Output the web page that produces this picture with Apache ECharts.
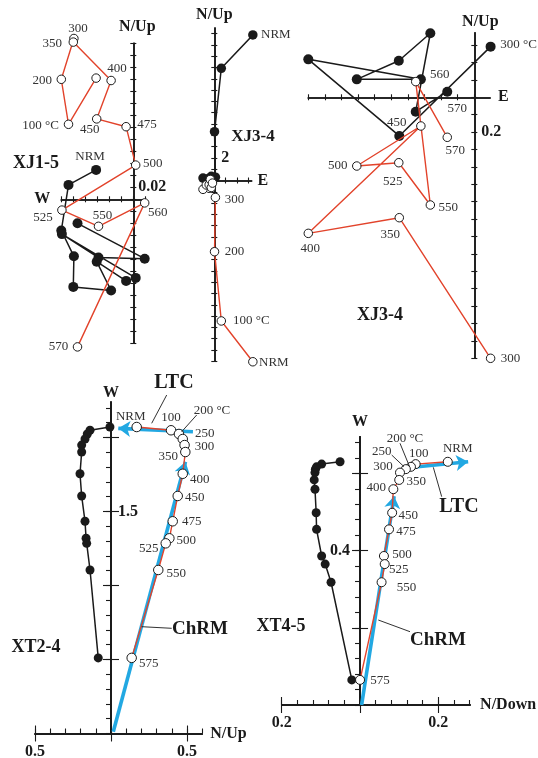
<!DOCTYPE html>
<html>
<head>
<meta charset="utf-8">
<script src="https://cdn.jsdelivr.net/npm/echarts@6/dist/echarts.min.js"></script>
<style>
  html, body { margin: 0; padding: 0; background: #fff; }
  #chart { width: 538px; height: 758px; }
</style>
</head>
<body>
<div id="chart"></div>
<script>
// ---------- demagnetisation data (orthogonal vector projections) ----------

// XJ1-5: horizontal axis = W–E component, filled = N, open = Up
const xj15Steps = ['NRM', '100 °C', '200', '300', '350', '400', '450', '475', '500', '525', '550', '560', '570'];
const xj15EW = [-0.062, -0.108, -0.120, -0.099, -0.100, -0.037, -0.061, -0.012, 0.004, -0.119, -0.058, 0.019, -0.093];
const xj15N  = [0.049, 0.024, -0.052, -0.095, -0.146, -0.152, -0.104, -0.136, -0.131, -0.058, -0.097, -0.099, -0.040];
const xj15Up = [0.202, 0.125, 0.200, 0.268, 0.262, 0.198, 0.134, 0.121, 0.057, -0.018, -0.045, -0.006, -0.246];

// XJ3-4: horizontal axis = E component, filled = N, open = Up (full run and enlarged 300–570 °C part)
const xj34Steps = ['NRM', '100 °C', '200', '300', '350', '400', '450', '500', '525', '550', '560', '570'];
const xj34E  = [3.41, 0.62, 0.02, 0.098, -0.452, -1.0, -0.322, -0.708, -0.455, -0.265, -0.353, -0.163];
const xj34N  = [12.88, 9.93, 4.32, 0.291, -0.222, 0.218, 0.103, 0.103, 0.210, 0.368, -0.083, 0.032];
const xj34Up = [-16.04, -12.43, -6.30, -1.50, -0.692, -0.782, -0.165, -0.395, -0.376, -0.619, 0.090, -0.230];

// XT2-4: vertical axis = W component, filled = N, open = Up
const xt24Steps = ['NRM', '100', '200 °C', '250', '300', '350', '400', '450', '475', '500', '525', '550', '575'];
const xt24W  = [2.071, 2.049, 2.024, 1.990, 1.949, 1.902, 1.755, 1.605, 1.434, 1.319, 1.285, 1.105, 0.511];
const xt24N  = [-0.007, -0.138, -0.156, -0.171, -0.193, -0.193, -0.204, -0.193, -0.171, -0.164, -0.160, -0.138, -0.084];
const xt24Up = [0.169, 0.395, 0.447, 0.472, 0.484, 0.489, 0.472, 0.439, 0.406, 0.384, 0.360, 0.311, 0.136];
const xt24Ltc  = [[0.539, 2.039], [0.048, 2.062]];
const xt24Chrm = [[0.015, 0.012], [0.490, 1.836]];

// XT4-5: vertical axis = W component, filled = N, open = Down
const xt45Steps = ['NRM', '100', '200 °C', '250', '300', '350', '400', '450', '475', '500', '525', '550', '575'];
const xt45W    = [0.630, 0.624, 0.617, 0.611, 0.602, 0.583, 0.559, 0.498, 0.455, 0.386, 0.365, 0.318, 0.065];
const xt45N    = [-0.051, -0.098, -0.111, -0.114, -0.115, -0.117, -0.115, -0.112, -0.111, -0.098, -0.089, -0.074, -0.021];
const xt45Down = [0.224, 0.142, 0.130, 0.117, 0.102, 0.100, 0.085, 0.082, 0.074, 0.061, 0.063, 0.055, 0.000];
const xt45Ltc  = [[0.115, 0.614], [0.276, 0.630]];
const xt45Chrm = [[0.004, 0.000], [0.087, 0.541]];

// ---------- styling helpers ----------
const INK = '#1a1a1a';
const RED = '#e2432b';
const BLUE = '#22a8e2';
const FONT = '"Liberation Serif", "Times New Roman", serif';

const xAxes = [], yAxes = [], grids = [], series = [];
const scaleTags = [];   // vertical-axis scale values, written beside the axis line

function ticks(a, b, step) {
  const out = [];
  const n = Math.round((b - a) / step);
  for (let i = 0; i <= n; i++) out.push(+(a + i * step).toFixed(6));
  return out;
}

function labelText(map, v) {
  for (const k in map) if (Math.abs(Number(k) - v) < 1e-7) return map[k];
  return '';
}

function makeAxis(gi, range, g, otherIdx, nm) {
  const a = {
    type: 'value', gridIndex: gi, min: range[0], max: range[1], position: g.side,
    axisLine: { show: true, onZero: true, onZeroAxisIndex: otherIdx, lineStyle: { color: INK, width: 1.6 } },
    axisTick: { show: true, customValues: g.ticks, length: g.len, lineStyle: { color: INK, width: 1.1 } },
    axisLabel: { show: false },
    splitLine: { show: false },
    silent: true
  };
  if (g.labels) {
    a.axisLabel = {
      show: true,
      customValues: Object.keys(g.labels).map(Number),
      formatter: v => labelText(g.labels, v),
      margin: g.margin,
      fontFamily: FONT, fontWeight: 'bold', fontSize: 16, color: INK
    };
  }
  if (nm) {
    a.name = nm.text;
    a.nameLocation = nm.loc;
    a.nameGap = nm.gap;
    a.nameMoveOverlap = false;
    a.nameTextStyle = { fontFamily: FONT, fontWeight: 'bold', fontSize: 16, color: INK, padding: nm.pad || 0 };
  }
  return a;
}

function addPanel(p) {
  const gi = grids.length;
  grids.push(Object.assign({ outerBoundsMode: 'none', containLabel: false }, p.grid));
  const x0 = xAxes.length, y0 = yAxes.length;
  p.xGroups.forEach((g, i) => xAxes.push(makeAxis(gi, p.xRange, g, y0, i === 0 ? p.xName : null)));
  p.yGroups.forEach((g, i) => yAxes.push(makeAxis(gi, p.yRange, g, x0, i === 0 ? p.yName : null)));
  const ax = { x: x0, y: y0 };
  (p.yScale || []).forEach(s => scaleTags.push(Object.assign({ ax }, s)));
  return ax;
}

const filledStyle = size => ({ size, line: INK, width: 1.5, item: { color: INK }, z: 3 });
const openStyle = size => ({ size, line: RED, width: 1.4, item: { color: '#fff', borderColor: INK, borderWidth: 1 }, z: 4 });

function pathSeries(ax, xs, ys, steps, tags, st, from) {
  const data = [];
  for (let i = from || 0; i < xs.length; i++) {
    const item = { value: [xs[i], ys[i]] };
    const t = tags[i];
    if (t) {
      item.label = { show: true, formatter: t[2] || steps[i], position: 'inside', offset: [t[0], t[1]] };
    }
    data.push(item);
  }
  return {
    type: 'line', xAxisIndex: ax.x, yAxisIndex: ax.y, data,
    clip: false, silent: true, animation: false,
    symbol: 'circle', symbolSize: st.size, showAllSymbol: true,
    lineStyle: { color: st.line, width: st.width },
    itemStyle: st.item,
    label: { show: false, fontFamily: FONT, fontSize: 13, color: '#333', textBorderWidth: 0 },
    emphasis: { disabled: true },
    z: st.z
  };
}

function fitLine(ax, seg) {
  return {
    type: 'lines', coordinateSystem: 'cartesian2d', xAxisIndex: ax.x, yAxisIndex: ax.y,
    data: [{ coords: seg }],
    symbol: ['none', 'arrow'], symbolSize: 12,
    lineStyle: { color: BLUE, width: 3.6, opacity: 1, curveness: 0 },
    itemStyle: { color: BLUE },
    silent: true, animation: false, z: 2
  };
}

// ---------- panel XJ1-5 ----------
{
  const xt = ticks(-0.12, 0.02, 0.02), yt = ticks(-0.24, 0.26, 0.02);
  const ax = addPanel({
    grid: { left: 61.3, top: 43.3, width: 84, height: 300 },
    xRange: [-0.12, 0.02], yRange: [-0.24, 0.26],
    xGroups: [{ side: 'bottom', ticks: xt, len: 3 }, { side: 'top', ticks: xt, len: 3 }],
    yGroups: [{ side: 'left', ticks: yt, len: 3 }, { side: 'right', ticks: yt, len: 3 }],
    xName: { text: 'W', loc: 'start', gap: 11 },
    yName: { text: 'N/Up', loc: 'end', gap: 8, pad: [0, 0, 0, 8] },
    yScale: [{ value: 0.02, text: '0.02', side: 'right', margin: 5 }]
  });
  series.push(pathSeries(ax, xj15EW, xj15N, xj15Steps, { 0: [-6, -13] }, filledStyle(10)));
  series.push(pathSeries(ax, xj15EW, xj15Up, xj15Steps, {
    1: [-28, 1], 2: [-19, 1], 3: [4, -10], 4: [-21, 1], 5: [6, -12], 6: [-7, 11],
    7: [21, -2], 8: [17, -2], 9: [-19, 7], 10: [4, -11], 11: [13, 10], 12: [-19, 0]
  }, openStyle(8.5)));
}

// ---------- panel XJ3-4 (full run) ----------
{
  const xt = ticks(0, 3, 1), yt = ticks(-16, 13, 1);
  const ax = addPanel({
    grid: { left: 214.3, top: 27.95, width: 37.3, height: 333.35 },
    xRange: [0, 3.3], yRange: [-16, 13.5],
    xGroups: [{ side: 'bottom', ticks: xt, len: 3 }, { side: 'top', ticks: xt, len: 3 }],
    yGroups: [{ side: 'left', ticks: yt, len: 3 }, { side: 'right', ticks: yt, len: 3 }],
    xName: { text: 'E', loc: 'end', gap: 6 },
    yName: { text: 'N/Up', loc: 'end', gap: 5 },
    yScale: [{ value: 2, text: '2', side: 'right', margin: 7 }]
  });
  series.push(pathSeries(ax, xj34E, xj34N, xj34Steps, { 0: [23, 0] }, filledStyle(9.5)));
  series.push(pathSeries(ax, xj34E, xj34Up, xj34Steps, {
    0: [21, 1], 1: [30, 0], 2: [20, 0], 3: [19, 2]
  }, openStyle(8.5)));
}

// ---------- panel XJ3-4 (300–570 °C enlarged) ----------
{
  const xt = ticks(-1, 0, 0.1), yt = ticks(-1.5, 0.3, 0.1);
  const ax = addPanel({
    grid: { left: 308.3, top: 32.9, width: 181.8, height: 325.4 },
    xRange: [-1, 0.095], yRange: [-1.5, 0.37],
    xGroups: [{ side: 'bottom', ticks: xt, len: 3 }, { side: 'top', ticks: xt, len: 3 }],
    yGroups: [{ side: 'left', ticks: yt, len: 3 }, { side: 'right', ticks: yt, len: 3 }],
    xName: { text: 'E', loc: 'end', gap: 8 },
    yName: { text: 'N/Up', loc: 'end', gap: 3, pad: [0, 0, 0, 12] },
    yScale: [{ value: -0.2, text: '0.2', side: 'right', margin: 7 }]
  });
  series.push(pathSeries(ax, xj34E, xj34N, xj34Steps, { 3: [28, -2, '300 °C'], 11: [10, 17] }, filledStyle(10), 3));
  series.push(pathSeries(ax, xj34E, xj34Up, xj34Steps, {
    3: [20, 0], 4: [-9, 17], 5: [2, 15], 6: [-24, -3], 7: [-19, 0],
    8: [-6, 19], 9: [18, 3], 10: [24, -7], 11: [8, 13]
  }, openStyle(8.5), 3));
}

// ---------- panel XT2-4 ----------
{
  const xMinor = ticks(-0.5, 0.6, 0.1), xMajor = [-0.5, 0, 0.5];
  const yMinor = ticks(0, 2.2, 0.1), yMajor = [0.5, 1, 1.5, 2];
  const ax = addPanel({
    grid: { left: 35, top: 402, width: 167.2, height: 331.5 },
    xRange: [-0.5, 0.6], yRange: [0, 2.24],
    xGroups: [{ side: 'bottom', ticks: xMajor, len: 8, labels: { '-0.5': '0.5', '0.5': '0.5' }, margin: 10 },
              { side: 'top', ticks: xMinor, len: 5 },
              { side: 'top', ticks: xMajor, len: 8 }],
    yGroups: [{ side: 'left', ticks: yMinor, len: 5 },
              { side: 'left', ticks: yMajor, len: 8 },
              { side: 'right', ticks: yMajor, len: 8 }],
    xName: { text: 'N/Up', loc: 'end', gap: 8 },
    yName: { text: 'W', loc: 'end', gap: 1 },
    yScale: [{ value: 1.5, text: '1.5', side: 'right', margin: 7 }]
  });
  series.push(fitLine(ax, xt24Ltc));
  series.push(fitLine(ax, xt24Chrm));
  series.push(pathSeries(ax, xt24N, xt24W, xt24Steps, {}, filledStyle(9)));
  series.push(pathSeries(ax, xt24Up, xt24W, xt24Steps, {
    0: [-6, -10], 1: [0, -13], 2: [33, -23], 3: [22, -5], 4: [20, 2], 5: [-17, 5],
    6: [17, 6], 7: [17, 2], 8: [19, 0], 9: [17, 2], 10: [-17, 5], 11: [18, 4], 12: [17, 6]
  }, openStyle(9.5)));
}

// ---------- panel XT4-5 ----------
{
  const xMinor = ticks(-0.2, 0.28, 0.04), xMajor = [-0.2, 0, 0.2];
  const yMinor = ticks(0, 0.68, 0.04), yMajor = [0.2, 0.4, 0.6];
  const ax = addPanel({
    grid: { left: 281.7, top: 436.7, width: 188.4, height: 268.3 },
    xRange: [-0.2, 0.281], yRange: [0, 0.695],
    xGroups: [{ side: 'bottom', ticks: xMajor, len: 8, labels: { '-0.2': '0.2', '0.2': '0.2' }, margin: 10 },
              { side: 'top', ticks: xMinor, len: 5 },
              { side: 'top', ticks: xMajor, len: 8 }],
    yGroups: [{ side: 'left', ticks: yMinor, len: 5 },
              { side: 'left', ticks: yMajor, len: 8 },
              { side: 'right', ticks: yMajor, len: 8 }],
    xName: { text: 'N/Down', loc: 'end', gap: 10 },
    yName: { text: 'W', loc: 'end', gap: 7 },
    yScale: [{ value: 0.4, text: '0.4', side: 'left', margin: 10 }]
  });
  series.push(fitLine(ax, xt45Ltc));
  series.push(fitLine(ax, xt45Chrm));
  series.push(pathSeries(ax, xt45N, xt45W, xt45Steps, {}, filledStyle(9)));
  series.push(pathSeries(ax, xt45Down, xt45W, xt45Steps, {
    0: [10, -13], 1: [3, -11], 2: [-6, -28], 3: [-24, -18], 4: [-17, -6], 5: [17, 2],
    6: [-17, -2], 7: [16, 3], 8: [17, 2], 9: [18, -1], 10: [14, 5], 11: [25, 5], 12: [20, 1]
  }, openStyle(9)));
}

// ---------- sample names, component labels and leader lines ----------
function textEl(text, x, y, size, align) {
  const font = 'bold ' + size + 'px ' + FONT;
  const a = align || 'center';
  return {
    type: 'text', x, y, silent: true, z: 10,
    style: { text, font, fill: INK, align: a, verticalAlign: 'middle', textAlign: a, textVerticalAlign: 'middle' }
  };
}
function leader(x1, y1, x2, y2) {
  return { type: 'line', silent: true, z: 10, shape: { x1, y1, x2, y2 }, style: { stroke: INK, lineWidth: 0.9 } };
}

const graphics = [
  textEl('XJ1-5', 36, 163, 18),
  textEl('XJ3-4', 253, 137, 17),
  textEl('XJ3-4', 380, 315, 18),
  textEl('XT2-4', 36, 647, 18),
  textEl('XT4-5', 281, 626, 18),
  textEl('LTC', 174, 383, 20),
  textEl('ChRM', 200, 629, 19),
  textEl('LTC', 459, 507, 20),
  textEl('ChRM', 438, 640, 19),
  leader(196.7, 415, 181.7, 431.7),
  leader(166.7, 395, 151.7, 423.3),
  leader(171.7, 628.3, 141.7, 626.7),
  leader(400, 443.3, 409.3, 466),
  leader(391.7, 455, 404, 466.7),
  leader(441.7, 496.7, 433.3, 467.3),
  leader(410, 631.7, 378.3, 620)
];

const chart = echarts.init(document.getElementById('chart'), null, { renderer: 'canvas' });
chart.setOption({
  animation: false,
  backgroundColor: '#fff',
  textStyle: { fontFamily: FONT },
  grid: grids,
  xAxis: xAxes,
  yAxis: yAxes,
  series,
  graphic: { elements: graphics }
});

// scale values beside each vertical axis line, placed at their axis value
const scaleEls = scaleTags.map(s => {
  const p = chart.convertToPixel({ xAxisIndex: s.ax.x, yAxisIndex: s.ax.y }, [0, s.value]);
  const right = s.side === 'right';
  return textEl(s.text, p[0] + (right ? s.margin : -s.margin), p[1], 16, right ? 'left' : 'right');
});
chart.setOption({ graphic: { elements: graphics.concat(scaleEls) } });
</script>
</body>
</html>
